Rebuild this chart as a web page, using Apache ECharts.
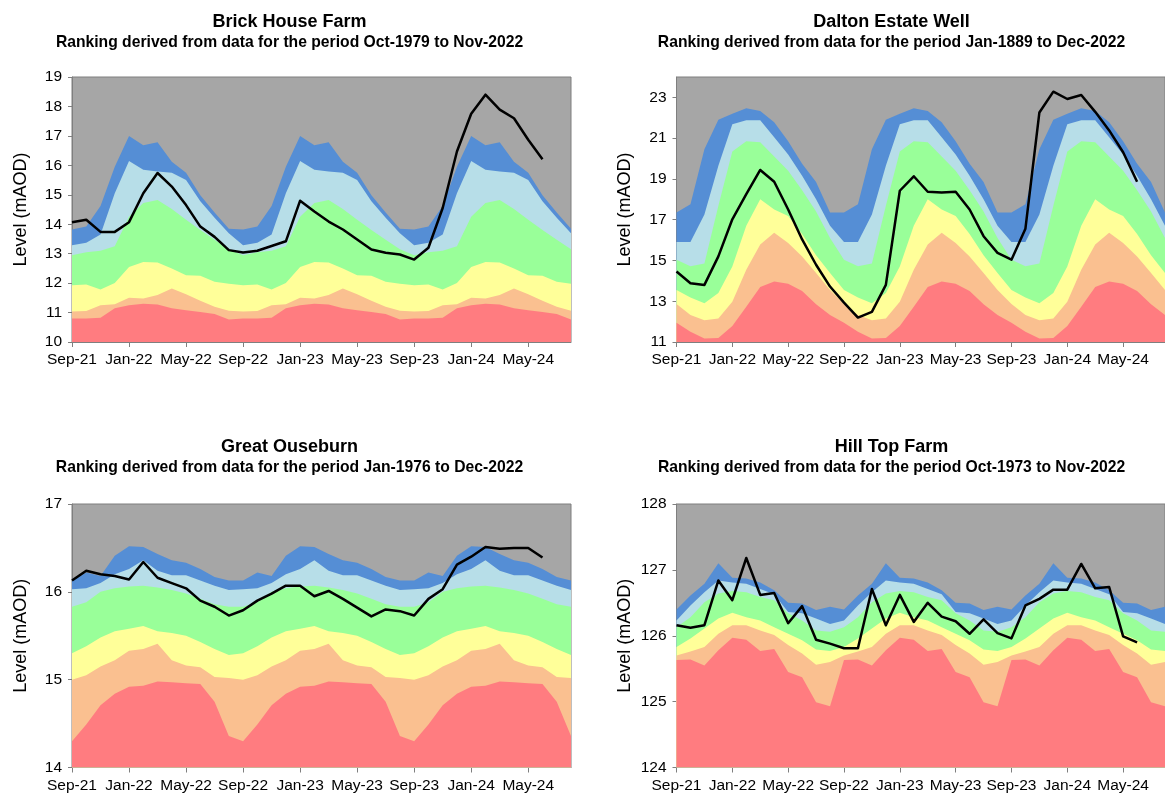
<!DOCTYPE html>
<html>
<head>
<meta charset="utf-8">
<title>Groundwater levels and historic ranking</title>
<script src="https://cdn.jsdelivr.net/npm/echarts@6/dist/echarts.min.js"></script>
<style>
  html, body { margin: 0; padding: 0; background: #ffffff; }
  #chart { width: 1165px; height: 794px; }
</style>
</head>
<body>
<div id="chart"></div>
<script>
// Month-end readings, Sep-21 to Aug-24
const months = [
  'Sep-21','Oct-21','Nov-21','Dec-21','Jan-22','Feb-22','Mar-22','Apr-22','May-22','Jun-22','Jul-22','Aug-22',
  'Sep-22','Oct-22','Nov-22','Dec-22','Jan-23','Feb-23','Mar-23','Apr-23','May-23','Jun-23','Jul-23','Aug-23',
  'Sep-23','Oct-23','Nov-23','Dec-23','Jan-24','Feb-24','Mar-24','Apr-24','May-24','Jun-24','Jul-24','Aug-24'
];

// Upper limit of each ranking band for each calendar month (Sep ... Aug), mAOD
// Brick House Farm
const brickExceptionallyLow = [10.80, 10.80, 10.82, 11.15, 11.25, 11.30, 11.27, 11.15, 11.08, 11.02, 10.95, 10.76];
const brickNotablyLow       = [11.04, 11.05, 11.25, 11.28, 11.50, 11.48, 11.60, 11.82, 11.62, 11.40, 11.20, 11.06];
const brickBelowNormal      = [11.93, 11.95, 11.78, 12.00, 12.55, 12.72, 12.70, 12.50, 12.27, 12.25, 12.05, 11.98];
const brickNormal           = [12.95, 13.05, 13.10, 13.25, 14.25, 14.72, 14.82, 14.52, 14.15, 13.80, 13.47, 13.15];
const brickAboveNormal      = [13.29, 13.37, 13.65, 15.05, 16.15, 15.85, 15.79, 15.75, 15.50, 14.78, 14.22, 13.69];
const brickNotablyHigh      = [13.82, 13.92, 14.62, 15.95, 17.00, 16.68, 16.78, 16.12, 15.75, 14.98, 14.40, 13.85];
const brickLevels = [14.07, 14.15, 13.74, 13.74, 14.07, 15.05, 15.74, 15.28, 14.65, 13.92, 13.57, 13.12,
                     13.04, 13.10, 13.26, 13.42, 14.80, 14.43, 14.09, 13.82, 13.48, 13.14, 13.03, 12.97,
                     12.80, 13.20, 14.55, 16.47, 17.75, 18.40, 17.89, 17.60, 16.87, 16.21];
const brickTicks = [10, 11, 12, 13, 14, 15, 16, 17, 18, 19];

// Dalton Estate Well
const daltonExceptionallyLow = [11.94, 11.50, 11.17, 11.20, 11.78, 12.73, 13.70, 13.97, 13.86, 13.50, 12.85, 12.32];
const daltonNotablyLow       = [12.86, 12.32, 12.07, 12.15, 12.98, 14.54, 15.78, 16.36, 15.86, 15.20, 14.38, 13.55];
const daltonBelowNormal      = [13.55, 13.18, 12.90, 13.40, 14.70, 16.70, 18.00, 17.50, 17.18, 16.30, 15.25, 14.38];
const daltonNormal           = [15.04, 14.72, 14.85, 17.68, 20.35, 20.85, 20.80, 20.10, 19.40, 18.45, 17.40, 16.10];
const daltonAboveNormal      = [15.90, 15.90, 17.26, 19.65, 21.68, 21.88, 21.88, 21.05, 20.20, 19.16, 18.00, 16.70];
const daltonNotablyHigh      = [17.35, 17.76, 20.45, 21.90, 22.20, 22.47, 22.33, 21.78, 20.85, 19.75, 18.85, 17.35];
const daltonLevels = [14.46, 13.88, 13.80, 15.20, 17.02, 18.25, 19.44, 18.86, 17.50, 16.03, 14.79, 13.72,
                      12.93, 12.20, 12.48, 13.80, 18.42, 19.13, 18.37, 18.33, 18.37, 17.50, 16.19, 15.37,
                      15.04, 16.56, 22.26, 23.28, 22.92, 23.12, 22.29, 21.38, 20.31, 18.86];
const daltonTicks = [11, 13, 15, 17, 19, 21, 23];

// Great Ouseburn
const ouseExceptionallyLow = [14.30, 14.49, 14.71, 14.84, 14.92, 14.93, 14.98, 14.97, 14.96, 14.95, 14.75, 14.36];
const ouseNotablyLow       = [15.00, 15.05, 15.15, 15.22, 15.33, 15.35, 15.41, 15.22, 15.16, 15.14, 15.03, 15.02];
const ouseBelowNormal      = [15.30, 15.38, 15.48, 15.55, 15.58, 15.61, 15.55, 15.53, 15.50, 15.43, 15.35, 15.28];
const ouseNormal           = [15.83, 15.88, 16.00, 16.04, 16.06, 16.07, 16.05, 16.02, 15.98, 15.92, 15.86, 15.83];
const ouseAboveNormal      = [16.03, 16.04, 16.10, 16.20, 16.26, 16.36, 16.24, 16.19, 16.19, 16.13, 16.07, 16.02];
const ouseNotablyHigh      = [16.13, 16.22, 16.18, 16.41, 16.52, 16.51, 16.43, 16.36, 16.33, 16.26, 16.17, 16.13];
const ouseLevels = [16.13, 16.24, 16.20, 16.18, 16.14, 16.34, 16.16, 16.10, 16.04, 15.90, 15.83, 15.73,
                    15.79, 15.90, 15.98, 16.07, 16.07, 15.95, 16.01, 15.92, 15.82, 15.72, 15.80, 15.78,
                    15.73, 15.92, 16.03, 16.31, 16.40, 16.51, 16.49, 16.50, 16.50, 16.39];
const ouseTicks = [14, 15, 16, 17];

// Hill Top Farm
const hillExceptionallyLow = [125.63, 125.64, 125.55, 125.78, 125.97, 125.94, 125.77, 125.80, 125.45, 125.37, 124.99, 124.93];
const hillNotablyLow       = [125.70, 125.76, 125.83, 126.03, 126.16, 126.16, 126.08, 126.01, 125.86, 125.73, 125.56, 125.60];
const hillBelowNormal      = [125.83, 125.96, 126.11, 126.26, 126.35, 126.28, 126.23, 126.13, 126.03, 125.93, 125.79, 125.77];
const hillNormal           = [126.13, 126.28, 126.51, 126.64, 126.68, 126.66, 126.59, 126.54, 126.34, 126.23, 126.08, 126.06];
const hillAboveNormal      = [126.23, 126.46, 126.66, 126.84, 126.81, 126.79, 126.71, 126.63, 126.36, 126.34, 126.26, 126.18];
const hillNotablyHigh      = [126.40, 126.61, 126.79, 127.10, 126.88, 126.87, 126.81, 126.69, 126.50, 126.49, 126.39, 126.44];
const hillLevels = [126.16, 126.12, 126.16, 126.84, 126.54, 127.18, 126.62, 126.65, 126.19, 126.45, 125.94, 125.88,
                    125.81, 125.81, 126.71, 126.16, 126.62, 126.21, 126.50, 126.29, 126.22, 126.03, 126.25, 126.04,
                    125.96, 126.46, 126.56, 126.70, 126.70, 127.09, 126.72, 126.74, 125.99, 125.90];
const hillTicks = [124, 125, 126, 127, 128];

// ---------------------------------------------------------------------------
const FONT = '"Liberation Sans", Arial, Helvetica, sans-serif';
const PLOT_BG = '#A6A6A6';
const FRAME = '#7F7F7F';
// drawn top band first so each lower band paints over the one above it
const BAND_COLORS = ['#558ED5', '#B7DEE8', '#99FF99', '#FFFF99', '#FAC090', '#FF7C80'];

// each calendar-month limit applies to that month in every year on the axis
const byMonth = profile => months.map((_, i) => profile[i % 12]);

const panels = [
  { name: 'Brick House Farm', period: 'Oct-1979 to Nov-2022',
    bands: [brickNotablyHigh, brickAboveNormal, brickNormal, brickBelowNormal, brickNotablyLow, brickExceptionallyLow],
    levels: brickLevels, ticks: brickTicks, min: 10, max: 19,
    grid: { left: 72, top: 77, width: 499, height: 265 }, titleX: 289.5, titleTop: 12.5 },
  { name: 'Dalton Estate Well', period: 'Jan-1889 to Dec-2022',
    bands: [daltonNotablyHigh, daltonAboveNormal, daltonNormal, daltonBelowNormal, daltonNotablyLow, daltonExceptionallyLow],
    levels: daltonLevels, ticks: daltonTicks, min: 11, max: 24,
    grid: { left: 676.5, top: 77, width: 499, height: 265 }, titleX: 891.5, titleTop: 12.5 },
  { name: 'Great Ouseburn', period: 'Jan-1976 to Dec-2022',
    bands: [ouseNotablyHigh, ouseAboveNormal, ouseNormal, ouseBelowNormal, ouseNotablyLow, ouseExceptionallyLow],
    levels: ouseLevels, ticks: ouseTicks, min: 14, max: 17,
    grid: { left: 72, top: 504, width: 499, height: 263.5 }, titleX: 289.5, titleTop: 437.5 },
  { name: 'Hill Top Farm', period: 'Oct-1973 to Nov-2022',
    bands: [hillNotablyHigh, hillAboveNormal, hillNormal, hillBelowNormal, hillNotablyLow, hillExceptionallyLow],
    levels: hillLevels, ticks: hillTicks, min: 124, max: 128,
    grid: { left: 676.5, top: 504, width: 499, height: 263.5 }, titleX: 891.5, titleTop: 437.5 }
];

const option = {
  animation: false,
  backgroundColor: '#ffffff',
  title: panels.map(p => ({
    text: p.name,
    subtext: 'Ranking derived from data for the period ' + p.period,
    left: p.titleX, top: p.titleTop, textAlign: 'center', padding: 0, itemGap: 1,
    textStyle: { fontFamily: FONT, fontSize: 18, fontWeight: 'bold', color: '#000', lineHeight: 20 },
    subtextStyle: { fontFamily: FONT, fontSize: 15.7, fontWeight: 'bold', color: '#000', lineHeight: 18 }
  })),
  grid: panels.map(p => Object.assign({
    show: true, backgroundColor: PLOT_BG, borderColor: FRAME, borderWidth: 1, containLabel: false
  }, p.grid)),
  xAxis: panels.map((p, i) => ({
    type: 'category', gridIndex: i, data: months, boundaryGap: false,
    axisLine: { show: true, lineStyle: { color: FRAME, width: 1 } },
    axisTick: { show: true, interval: 3, length: 5, lineStyle: { color: FRAME } },
    axisLabel: { interval: 3, margin: 10, fontFamily: FONT, fontSize: 15.5, color: '#000' },
    splitLine: { show: false }
  })),
  yAxis: panels.map((p, i) => ({
    type: 'value', gridIndex: i, min: p.min, max: p.max,
    name: 'Level (mAOD)', nameLocation: 'middle', nameGap: 42,
    nameTextStyle: { fontFamily: FONT, fontSize: 18, color: '#000' },
    axisLine: { show: true, lineStyle: { color: FRAME, width: 1 } },
    axisTick: { show: true, length: 4, customValues: p.ticks, lineStyle: { color: FRAME } },
    axisLabel: { margin: 10, customValues: p.ticks, fontFamily: FONT, fontSize: 15.5, color: '#000' },
    splitLine: { show: false }
  })),
  series: []
};

panels.forEach((p, i) => {
  p.bands.forEach((limits, k) => {
    option.series.push({
      type: 'line', xAxisIndex: i, yAxisIndex: i, data: byMonth(limits),
      symbol: 'none', silent: true, z: 2,
      lineStyle: { width: 0, opacity: 0 },
      areaStyle: { color: BAND_COLORS[k], opacity: 1, origin: 'start' }
    });
  });
  option.series.push({
    type: 'line', xAxisIndex: i, yAxisIndex: i, data: p.levels,
    symbol: 'none', silent: true, z: 3,
    lineStyle: { color: '#000000', width: 2.5, join: 'round' }
  });
});

const chart = echarts.init(document.getElementById('chart'), null, { renderer: 'canvas' });
chart.setOption(option);
</script>
</body>
</html>
